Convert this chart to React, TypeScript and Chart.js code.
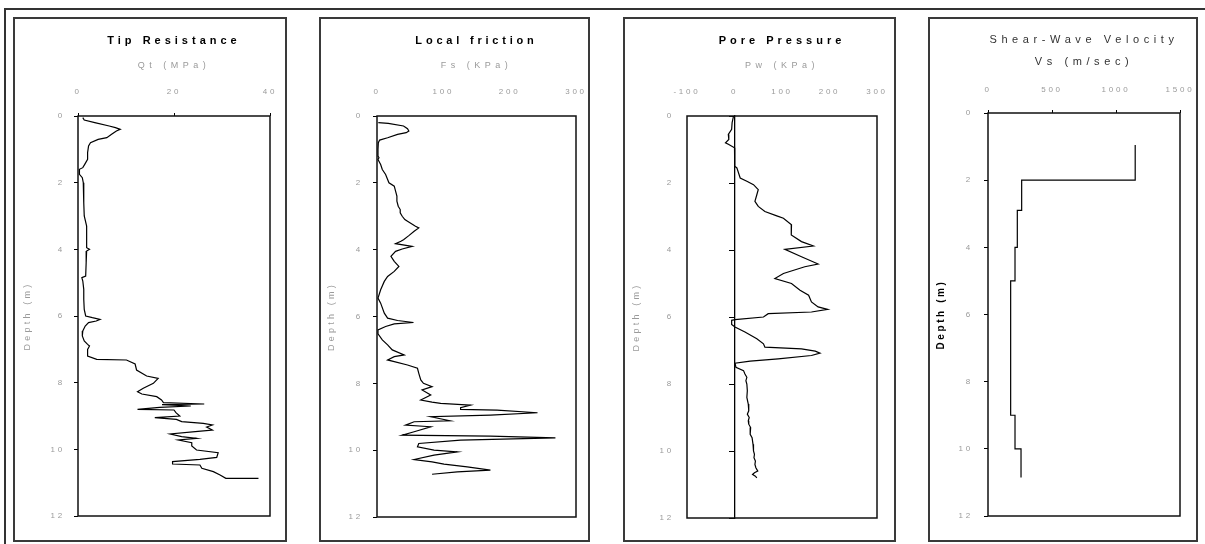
import React, { useEffect, useRef } from "react";
import { Chart, registerables } from "chart.js";

Chart.register(...registerables);

// ---------- data ----------
const depthQt = [0.05, 0.12, 0.2, 0.3, 0.35, 0.4, 0.45, 0.55, 0.65, 0.7, 0.8, 0.9, 1.1, 1.3, 1.45, 1.55, 1.6, 1.75, 1.85, 2.0, 2.3, 2.6, 3.0, 3.3, 3.6, 3.95, 4.0, 4.05, 4.4, 4.8, 4.85, 4.95, 5.2, 5.5, 5.8, 6.0, 6.05, 6.1, 6.15, 6.2, 6.3, 6.45, 6.6, 6.75, 6.85, 6.9, 7.0, 7.2, 7.3, 7.32, 7.44, 7.62, 7.8, 7.87, 8.02, 8.17, 8.27, 8.34, 8.42, 8.52, 8.6, 8.64, 8.66, 8.7, 8.74, 8.8, 8.82, 8.9, 9.0, 9.05, 9.1, 9.17, 9.22, 9.27, 9.33, 9.42, 9.46, 9.54, 9.62, 9.67, 9.72, 9.8, 9.9, 10.02, 10.1, 10.24, 10.3, 10.37, 10.44, 10.47, 10.57, 10.67, 10.77, 10.87, 10.87];
const qtValues = [1.0, 1.3, 3.5, 6.5, 7.8, 8.8, 8.0, 7.0, 6.0, 4.2, 2.6, 2.2, 2.0, 2.0, 1.4, 1.0, 0.3, 0.3, 0.9, 1.1, 1.2, 1.2, 1.3, 1.8, 1.8, 1.8, 2.4, 1.8, 1.7, 1.6, 0.8, 1.0, 1.2, 1.2, 1.3, 1.6, 3.0, 4.6, 3.8, 2.2, 1.5, 1.0, 0.9, 1.3, 2.0, 2.4, 2.0, 2.0, 3.9, 10.1, 11.9, 12.2, 14.3, 16.7, 15.7, 13.6, 12.4, 13.3, 16.4, 17.4, 17.8, 26.3, 17.5, 23.5, 17.0, 12.4, 20.0, 20.4, 21.2, 16.0, 20.5, 21.6, 26.1, 28.0, 26.8, 28.0, 25.0, 19.2, 21.6, 24.7, 20.9, 23.7, 23.7, 24.7, 29.2, 28.9, 25.4, 19.7, 19.7, 25.4, 25.8, 28.2, 29.6, 30.8, 37.6];

const depthFs = [0.2, 0.22, 0.3, 0.38, 0.45, 0.5, 0.55, 0.65, 0.72, 0.8, 1.0, 1.2, 1.25, 1.3, 1.45, 1.6, 1.75, 1.9, 2.0, 2.1, 2.25, 2.4, 2.55, 2.7, 2.8, 2.9, 3.0, 3.1, 3.15, 3.3, 3.35, 3.45, 3.58, 3.7, 3.75, 3.82, 3.9, 3.98, 4.05, 4.2, 4.35, 4.5, 4.65, 4.8, 4.95, 5.2, 5.45, 5.6, 5.9, 6.05, 6.12, 6.18, 6.22, 6.3, 6.4, 6.52, 6.7, 6.85, 7.0, 7.15, 7.2, 7.3, 7.35, 7.45, 7.55, 7.7, 7.9, 8.0, 8.1, 8.2, 8.35, 8.5, 8.56, 8.6, 8.65, 8.73, 8.78, 8.8, 8.88, 8.95, 9.0, 9.12, 9.15, 9.25, 9.3, 9.45, 9.55, 9.58, 9.63, 9.7, 9.8, 9.9, 10.0, 10.05, 10.15, 10.28, 10.35, 10.42, 10.5, 10.6, 10.65, 10.72];
const fsValues = [2, 17, 40, 46, 48, 44, 31, 16, 4, 2, 1.5, 1.5, 3, 1.5, 5.5, 8, 13, 16, 18, 26, 28, 30, 30, 32, 35, 35, 38, 42, 46, 58, 63, 56, 48, 40, 36, 28, 53, 38, 28, 21, 26, 33, 26, 16, 11, 5.5, 1.5, 5.5, 11, 16, 31, 55, 26, 13, 1.5, 1.5, 8, 16, 23, 41, 26, 16, 26, 46, 61, 63, 66, 70, 83, 68, 81, 66, 83, 96, 141, 126, 126, 181, 242, 171, 81, 110, 56, 43, 81, 56, 38, 171, 269, 126, 63, 61, 86, 121, 86, 56, 83, 101, 136, 171, 121, 83];

const depthPw = [0, 0.2, 0.4, 0.55, 0.7, 0.8, 0.85, 0.95, 1.2, 1.5, 1.55, 1.85, 1.95, 2.05, 2.2, 2.35, 2.55, 2.7, 2.85, 2.98, 3.05, 3.25, 3.4, 3.55, 3.75, 3.88, 3.98, 4.2, 4.42, 4.5, 4.7, 4.85, 5.0, 5.2, 5.35, 5.55, 5.7, 5.77, 5.85, 5.9, 6.0, 6.08, 6.1, 6.22, 6.3, 6.45, 6.65, 6.8, 6.9, 6.95, 7.02, 7.08, 7.15, 7.25, 7.32, 7.38, 7.5, 7.6, 7.7, 7.8, 7.9, 8.0, 8.2, 8.4, 8.6, 8.8, 8.9, 9.0, 9.1, 9.2, 9.3, 9.5, 9.6, 9.8, 10.0, 10.1, 10.2, 10.3, 10.4, 10.5, 10.6, 10.65, 10.7, 10.75, 10.8];
const pwValues = [-2, -5, -6, -13, -12, -19, -12, 0, 0, 1, 5, 12, 26, 40, 50, 47, 43, 50, 64, 89, 103, 120, 119, 120, 141, 166, 106, 141, 176, 148, 103, 85, 120, 138, 156, 162, 176, 196, 162, 71, 61, 1, -6, -6, 1, 22, 47, 61, 64, 141, 170, 180, 162, 92, 33, 1, 3, 19, 22, 26, 24, 26, 27, 26, 29, 30, 27, 31, 29, 30, 34, 33, 37, 39, 40, 42, 41, 44, 43, 45, 49, 42, 38, 44, 47];

const depthVs = [0.95, 2.0, 2.0, 2.9, 2.9, 4.0, 4.0, 5.0, 5.0, 9.0, 9.0, 10.0, 10.0, 10.85];
const vsValues = [1150, 1150, 263, 263, 229, 229, 211, 211, 177, 177, 211, 211, 258, 258];

const qtTicks = [0, 20, 40];
const fsTicks = [0, 100, 200, 300];
const pwTicks = [-100, 0, 100, 200, 300];
const vsTicks = [0, 500, 1000, 1500];
const depthTicks = [0, 2, 4, 6, 8, 10, 12];

const titleQt = "Tip Resistance";
const titleFs = "Local friction";
const titlePw = "Pore Pressure";
const titleVs = ["Shear-Wave Velocity", "Vs (m/sec)"];
const unitQt = "Qt (MPa)";
const unitFs = "Fs (KPa)";
const unitPw = "Pw (KPa)";
const depthLabel = "Depth (m)";

// ---------- styling / layout ----------
const FONT = "'Liberation Sans', Arial, sans-serif";
const GREY = "#9a9a9a";
const TICK_SIZE = 8;
const UNIT_SIZE = 9;

type PanelCfg = {
  box: { l: number; t: number; w: number; h: number };
  plot: { l: number; t: number; r: number; b: number };
  depth: number[];
  values: number[];
  xTicks: number[];
  title: string | string[];
  titleCenterY: number;
  titleSize: number;
  titleWeight: string;
  titleLineHeight: number;
  titleColor: string;
  titleSpacing: number;
  unit: string | null;
  unitCenterY: number;
  tickCenterY: number;
  xTickLen: number;
  yLabelRight: number;
  yTickLen: number;
  yTitleX: number;
  yTitleBold: boolean;
  zeroLine: boolean;
};

const panels: PanelCfg[] = [
  {
    box: { l: 13, t: 17, w: 274, h: 525 },
    plot: { l: 78, t: 116, r: 270, b: 516 },
    depth: depthQt, values: qtValues, xTicks: qtTicks,
    title: titleQt, titleCenterY: 41, titleSize: 11, titleWeight: "bold", titleLineHeight: 1.2, titleColor: "#000", titleSpacing: 4,
    unit: unitQt, unitCenterY: 66, tickCenterY: 92, xTickLen: 3,
    yLabelRight: 65, yTickLen: 4, yTitleX: 28, yTitleBold: false, zeroLine: false,
  },
  {
    box: { l: 319, t: 17, w: 271, h: 525 },
    plot: { l: 377, t: 116, r: 576, b: 517 },
    depth: depthFs, values: fsValues, xTicks: fsTicks,
    title: titleFs, titleCenterY: 41, titleSize: 11, titleWeight: "bold", titleLineHeight: 1.2, titleColor: "#000", titleSpacing: 3.8,
    unit: unitFs, unitCenterY: 66, tickCenterY: 92, xTickLen: 0,
    yLabelRight: 363, yTickLen: 4, yTitleX: 332, yTitleBold: false, zeroLine: false,
  },
  {
    box: { l: 623, t: 17, w: 273, h: 525 },
    plot: { l: 687, t: 116, r: 877, b: 518 },
    depth: depthPw, values: pwValues, xTicks: pwTicks,
    title: titlePw, titleCenterY: 41, titleSize: 11, titleWeight: "bold", titleLineHeight: 1.2, titleColor: "#000", titleSpacing: 4,
    unit: unitPw, unitCenterY: 66, tickCenterY: 92, xTickLen: 0,
    yLabelRight: 674, yTickLen: 0, yTitleX: 637, yTitleBold: false, zeroLine: true,
  },
  {
    box: { l: 928, t: 17, w: 270, h: 525 },
    plot: { l: 988, t: 113, r: 1180, b: 516 },
    depth: depthVs, values: vsValues, xTicks: vsTicks,
    title: titleVs, titleCenterY: 40, titleSize: 11, titleWeight: "normal", titleLineHeight: 2.0, titleColor: "#333", titleSpacing: 4.6,
    unit: null, unitCenterY: 0, tickCenterY: 90, xTickLen: 3,
    yLabelRight: 973, yTickLen: 4, yTitleX: 941, yTitleBold: true, zeroLine: false,
  },
];

// letter spacing for canvas text (title / axis titles / tick labels)
const spacingPlugin = {
  id: "letterSpacing",
  beforeDraw(chart: any, _args: any, opts: any) {
    const ctx = chart.ctx as any;
    const wrap = (obj: any, key: string, sp: number) => {
      if (!obj || typeof obj[key] !== "function" || obj["__sp_" + key]) return;
      const orig = obj[key].bind(obj);
      obj[key] = (...a: any[]) => {
        const prev = ctx.letterSpacing;
        ctx.letterSpacing = sp + "px";
        try { orig(...a); } finally { ctx.letterSpacing = prev; }
      };
      obj["__sp_" + key] = true;
    };
    wrap(chart.titleBlock, "draw", opts.title || 0);
    Object.keys(chart.scales).forEach((k) => {
      const s = chart.scales[k];
      wrap(s, "drawTitle", s.axis === "x" ? opts.unit || 0 : opts.depth || 0);
      wrap(s, "drawLabels", opts.ticks || 0);
    });
  },
};

const plotBorderPlugin = {
  id: "plotBorder",
  beforeDatasetsDraw(chart: any) {
    const { ctx, chartArea } = chart;
    ctx.save();
    ctx.strokeStyle = "#111";
    ctx.lineWidth = 1.5;
    ctx.strokeRect(chartArea.left, chartArea.top, chartArea.right - chartArea.left, chartArea.bottom - chartArea.top);
    ctx.restore();
  },
};

function buildConfig(p: PanelCfg): any {
  const W = p.box.w;
  const H = p.box.h;
  const pl = p.plot.l - p.box.l;
  const pt = p.plot.t - p.box.t;
  const pr = W - (p.plot.r - p.box.l);
  const pb = H - (p.plot.b - p.box.t);
  const lines = Array.isArray(p.title) ? p.title.length : 1;
  const titleLH = p.titleSize * p.titleLineHeight;
  const titlePadTop = p.titleCenterY - p.box.t - titleLH / 2;
  const titleBottom = titlePadTop + lines * titleLH;
  const xAxisHeight = pt - titleBottom;
  const unitLH = UNIT_SIZE * 1.2;
  const unitPadTop = Math.max(0, p.unitCenterY - p.box.t - titleBottom - unitLH / 2);
  const tickLH = TICK_SIZE * 1.2;
  const xTickPad = p.plot.t - p.tickCenterY - tickLH / 2 - p.xTickLen;
  const yTickPad = p.plot.l - p.yLabelRight - p.yTickLen;
  const yTitlePad = p.yTitleX - p.box.l - unitLH / 2;
  const depthTickFn = (s: any) => { s.ticks = depthTicks.map((v) => ({ value: v })); };
  const xTickFn = (s: any) => { s.ticks = p.xTicks.map((v) => ({ value: v })); };

  const scales: any = {
    x: {
      type: "linear",
      position: "top",
      min: p.xTicks[0],
      max: p.xTicks[p.xTicks.length - 1],
      afterBuildTicks: xTickFn,
      afterFit: (s: any) => {
        s.height = xAxisHeight;
        s.paddingLeft = 0;
        s.paddingRight = 0;
      },
      ticks: {
        font: { family: FONT, size: TICK_SIZE }, color: GREY, padding: xTickPad,
        autoSkip: false, maxRotation: 0, callback: (v: any) => String(v),
      },
      grid: { display: p.xTickLen > 0, drawOnChartArea: false, drawTicks: true, tickLength: p.xTickLen, color: "#000", lineWidth: 1 },
      border: { display: false },
      title: {
        display: !!p.unit, text: p.unit || "", color: GREY,
        font: { family: FONT, size: UNIT_SIZE }, padding: { top: unitPadTop, bottom: 0 },
      },
    },
    y: {
      type: "linear",
      position: "left",
      reverse: true,
      min: 0,
      max: 12,
      afterBuildTicks: depthTickFn,
      afterFit: (s: any) => {
        s.width = pl;
        s.paddingTop = 0;
        s.paddingBottom = 0;
      },
      ticks: {
        font: { family: FONT, size: TICK_SIZE }, color: GREY, padding: yTickPad,
        autoSkip: false, callback: (v: any) => String(v),
      },
      grid: { display: p.yTickLen > 0, drawOnChartArea: false, drawTicks: true, tickLength: p.yTickLen, color: "#000", lineWidth: 1 },
      border: { display: false },
      title: {
        display: true, text: depthLabel,
        color: p.yTitleBold ? "#000" : GREY,
        font: { family: FONT, size: p.yTitleBold ? 10 : UNIT_SIZE, weight: p.yTitleBold ? "bold" : "normal" },
        padding: { top: yTitlePad, bottom: 0 },
      },
    },
  };
  if (p.zeroLine) {
    scales.y0 = {
      type: "linear",
      position: { x: 0 },
      reverse: true,
      min: 0,
      max: 12,
      afterBuildTicks: depthTickFn,
      afterFit: (s: any) => {
        s.paddingTop = 0;
        s.paddingBottom = 0;
      },
      ticks: { display: false },
      grid: { display: true, drawOnChartArea: false, drawTicks: true, tickLength: 5, color: "#000", lineWidth: 1 },
      border: { display: true, color: "#000", width: 1.3 },
    };
  }

  return {
    type: "scatter",
    data: {
      datasets: [
        {
          data: p.depth.map((d, i) => ({ x: p.values[i], y: d })),
          showLine: true,
          borderColor: "#000",
          borderWidth: 1.2,
          pointRadius: 0,
          pointHoverRadius: 0,
          fill: false,
          tension: 0,
          xAxisID: "x",
          yAxisID: "y",
        },
      ],
    },
    options: {
      animation: false,
      responsive: false,
      maintainAspectRatio: false,
      devicePixelRatio: 1,
      layout: { padding: { left: 0, top: 0, right: pr, bottom: pb } },
      scales,
      plugins: {
        legend: { display: false },
        tooltip: { enabled: false },
        title: {
          display: true,
          text: p.title,
          fullSize: false,
          color: p.titleColor,
          font: { family: FONT, size: p.titleSize, weight: p.titleWeight, lineHeight: p.titleLineHeight },
          padding: { top: titlePadTop, bottom: 0 },
        },
        letterSpacing: { title: p.titleSpacing, unit: 4.5, depth: p.yTitleBold ? 2.6 : 3.2, ticks: 2.8 },
      },
      events: [],
    },
    plugins: [spacingPlugin, plotBorderPlugin],
  };
}

function PanelChart({ p }: { p: PanelCfg }) {
  const ref = useRef<HTMLCanvasElement | null>(null);
  useEffect(() => {
    if (!ref.current) return;
    const chart = new Chart(ref.current, buildConfig(p));
    return () => chart.destroy();
  }, [p]);
  return (
    <div style={{ position: "absolute", left: p.box.l, top: p.box.t, width: p.box.w, height: p.box.h }}>
      <canvas
        ref={ref}
        width={p.box.w}
        height={p.box.h}
        style={{ position: "absolute", left: 0, top: 0, width: p.box.w, height: p.box.h, display: "block" }}
      />
      <div
        style={{
          position: "absolute", left: 0, top: 0, width: p.box.w, height: p.box.h,
          border: "2px solid #3a3a3a", boxSizing: "border-box", pointerEvents: "none",
        }}
      />
    </div>
  );
}

export default function App() {
  return (
    <div style={{ position: "absolute", left: 0, top: 0, width: 1205, height: 544, overflow: "hidden", background: "#fff" }}>
      <div
        style={{
          position: "absolute", left: 4, top: 8, width: 1400, height: 800,
          borderTop: "2px solid #333", borderLeft: "2px solid #333",
        }}
      />
      {panels.map((p, i) => (
        <PanelChart key={i} p={p} />
      ))}
    </div>
  );
}
